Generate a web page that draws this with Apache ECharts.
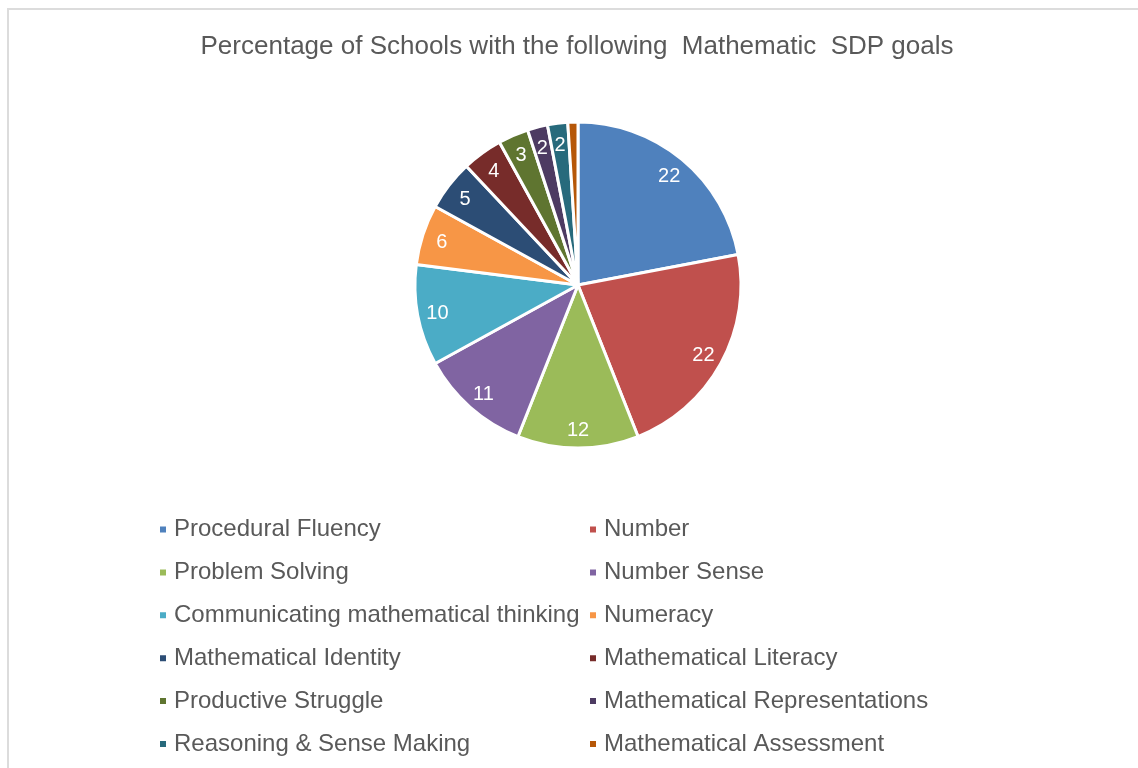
<!DOCTYPE html>
<html>
<head>
<meta charset="utf-8">
<script src="https://cdn.jsdelivr.net/npm/echarts@6/dist/echarts.min.js"></script>
<style>
  html, body { margin: 0; padding: 0; background: #ffffff; }
  #frame { position: absolute; left: 7px; top: 8px; width: 1200px; height: 800px;
           border-top: 2px solid #dcdcdc; border-left: 2px solid #dcdcdc; box-sizing: border-box; }
  #chart { position: absolute; left: 0; top: 0; width: 1138px; height: 768px; }
</style>
</head>
<body>
<div id="frame"></div>
<div id="chart"></div>
<script>
// Goal categories and share of schools (%)
const categories = [
  'Procedural Fluency', 'Number', 'Problem Solving', 'Number Sense',
  'Communicating mathematical thinking', 'Numeracy', 'Mathematical Identity',
  'Mathematical Literacy', 'Productive Struggle', 'Mathematical Representations',
  'Reasoning & Sense Making', 'Mathematical Assessment'
];
const values = [22, 22, 12, 11, 10, 6, 5, 4, 3, 2, 2, 1];
const colors = [
  '#4F81BD', '#C0504D', '#9BBB59', '#8064A2', '#4BACC6', '#F79646',
  '#2C4D75', '#772C2A', '#5F7530', '#4D3B62', '#276A7C', '#B65708'
];
// Slices whose value label is left off
const hiddenLabels = ['Mathematical Assessment'];

const cx = 578, cy = 285, R = 163;
const labelRadius = 138;

const chart = echarts.init(document.getElementById('chart'), null, { renderer: 'canvas' });

const pieData = categories.map((name, i) => ({
  name: name,
  value: values[i],
  itemStyle: { color: colors[i] },
  label: { show: hiddenLabels.indexOf(name) < 0 }
}));

const leftNames = categories.filter((_, i) => i % 2 === 0);
const rightNames = categories.filter((_, i) => i % 2 === 1);

const legendBase = {
  orient: 'vertical',
  top: 512.5,
  itemWidth: 8,
  itemHeight: 8,
  itemGap: 18.9,
  icon: 'rect',
  textStyle: {
    fontFamily: 'Liberation Sans, Arial, sans-serif',
    fontSize: 24,
    lineHeight: 24,
    color: '#595959',
    padding: [0, 0, 0, 2]
  }
};

chart.setOption({
  animation: false,
  color: colors,
  title: {
    text: 'Percentage of Schools with the following  Mathematic  SDP goals',
    left: 572,
    top: 29,
    textAlign: 'center',
    textStyle: {
      fontFamily: 'Liberation Sans, Arial, sans-serif',
      fontSize: 26,
      fontWeight: 'normal',
      color: '#595959'
    }
  },
  legend: [
    Object.assign({}, legendBase, { left: 153, data: leftNames }),
    Object.assign({}, legendBase, { left: 583, data: rightNames })
  ],
  series: [{
    type: 'pie',
    center: [cx, cy],
    radius: [0, R],
    startAngle: 90,
    clockwise: true,
    data: pieData,
    itemStyle: { borderColor: '#ffffff', borderWidth: 3 },
    label: {
      position: 'inside',
      formatter: '{c}',
      color: '#ffffff',
      fontFamily: 'Liberation Sans, Arial, sans-serif',
      fontSize: 20
    },
    labelLine: { show: false },
    // push the inside labels out toward the rim
    labelLayout: function (p) {
      const r = p.labelRect;
      const lx = r.x + r.width / 2;
      const ly = r.y + r.height / 2;
      const k = labelRadius / (R / 2);
      return { x: cx + (lx - cx) * k, y: cy + (ly - cy) * k + 2, align: 'center', verticalAlign: 'middle' };
    },
    emphasis: { disabled: true }
  }]
});
</script>
</body>
</html>
